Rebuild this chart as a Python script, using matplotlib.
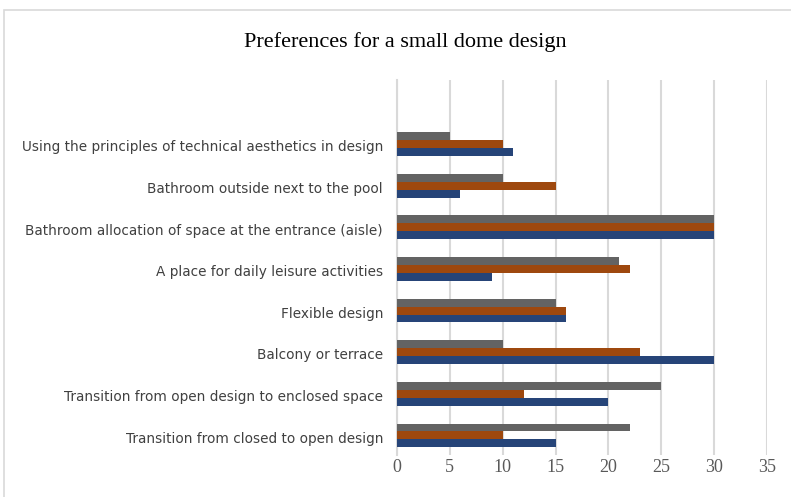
import matplotlib.pyplot as plt
from matplotlib.patches import Rectangle
import numpy as np

# categories from bottom to top
categories = [
    "Transition from closed to open design",
    "Transition from open design to enclosed space",
    "Balcony or terrace",
    "Flexible design",
    "A place for daily leisure activities",
    "Bathroom allocation of space at the entrance (aisle)",
    "Bathroom outside next to the pool",
    "Using the principles of technical aesthetics in design",
]
blue_vals = [15, 20, 30, 16, 9, 30, 6, 11]
orange_vals = [10, 12, 23, 16, 22, 30, 15, 10]
gray_vals = [22, 25, 10, 15, 21, 30, 10, 5]
xticks = [0, 5, 10, 15, 20, 25, 30, 35]

fig = plt.figure(figsize=(7.91, 4.97), dpi=100)

# light frame around chart area
fig.patches.append(Rectangle((4 / 791, -0.05), 1.0, 1 - 10 / 497 + 0.05,
                             transform=fig.transFigure, fill=False,
                             edgecolor="#d9d9d9", linewidth=1.2))

ax = fig.add_axes([397 / 791, 42 / 497, (767 - 397) / 791, (455 - 80) / 497])

y = np.arange(len(categories))
h = 0.19
ax.barh(y - h, blue_vals, height=h, color="#264478", zorder=3)
ax.barh(y, orange_vals, height=h, color="#9e480e", zorder=3)
ax.barh(y + h, gray_vals, height=h, color="#636363", zorder=3)

ax.set_xlim(0, 35)
ax.set_ylim(-0.47, 8.54)
ax.set_xticks(xticks)
ax.set_xticklabels([str(v) for v in xticks], family="Liberation Serif",
                   fontsize=13, color="#595959")
ax.set_yticks(y - 0.04)
ax.set_yticklabels(categories, family="DejaVu Sans", fontsize=9.8, color="#404040")
ax.tick_params(axis="x", length=0, pad=3)
ax.tick_params(axis="y", length=0, pad=10)

ax.grid(axis="x", color="#d9d9d9", linewidth=1.5, zorder=0)
for s in ["top", "right", "bottom"]:
    ax.spines[s].set_visible(False)
ax.spines["left"].set_color("#d9d9d9")
ax.spines["left"].set_linewidth(1.5)

fig.text(405 / 791, 1 - 42 / 497, "Preferences for a small dome design",
         ha="center", va="center", family="Liberation Serif", fontsize=16,
         color="#000000")

fig.savefig("out.png", dpi=100)
